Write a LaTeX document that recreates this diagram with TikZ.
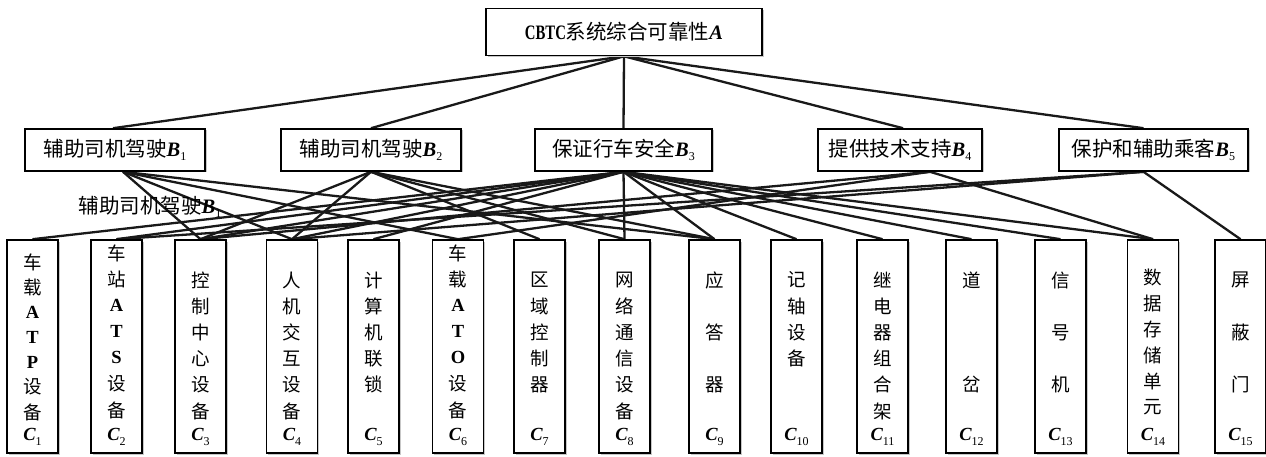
\documentclass[tikz,border=0pt]{standalone}
\usepackage{fontspec}
\usepackage{graphicx}
\setmainfont{Liberation Serif}
\newfontfamily\cjk{Noto Sans CJK SC}
\usetikzlibrary{shadows,backgrounds}
\newcommand\lat[1]{{\rmfamily\bfseries\itshape #1}}
\newcommand\mysubn[2]{\raisebox{#1}{\rmfamily\mdseries\upshape\fontsize{12}{12}\selectfont #2}}
\newcommand\Bl[1]{\lat{B}\mysubn{-0.35ex}{#1}}
\newcommand\Cl[1]{\lat{C}\mysubn{-0.5ex}{#1}}
\newcommand\lt[1]{{\rmfamily\bfseries #1}}
\newcommand\cstack[5]{% name, x, first y, spacing, list
  \foreach \t [count=\k] in {#5} {\node[ctext] (#1t\k) at (#2, #3+#4*\k-#4) {\t};}
}
\begin{document}
\begin{tikzpicture}[x=1pt,y=-1pt,
  box/.style={draw, line width=1.6pt, fill=white, inner sep=0pt,
    drop shadow={shadow xshift=1.5pt, shadow yshift=-1.5pt, fill=black!22, opacity=1}},
  bbox/.style={box, minimum height=42pt},
  cbox/.style={box, minimum width=51pt, minimum height=213pt},
  btext/.style={font=\cjk\fontsize{20.5}{24}\selectfont, inner sep=0pt},
  ctext/.style={font=\cjk\fontsize{18.5}{22}\selectfont, inner sep=0pt},
  link/.style={line width=2.3pt, draw=black!90}
]
\useasboundingbox (0,0) rectangle (1266,457);

% top
\node[box, minimum width=276pt, minimum height=47pt, btext] (A) at (624,32)
  {\scalebox{0.72}[1]{\lt{CBTC}}系统综合可靠性\lat{A}};

% B level
\node[bbox, minimum width=180pt, btext] (B1) at (115,150) {辅助司机驾驶\Bl{1}};
\node[bbox, minimum width=180pt, btext] (B2) at (371,150) {辅助司机驾驶\Bl{2}};
\node[bbox, minimum width=177pt, btext] (B3) at (623.5,150) {保证行车安全\Bl{3}};
\node[bbox, minimum width=164pt, btext] (B4) at (900,150) {提供技术支持\Bl{4}};
\node[bbox, minimum width=189pt, btext] (B5) at (1153.5,150) {保护和辅助乘客\Bl{5}};

% stray label
\node[btext] (stray) at (150,207) {辅助司机驾驶\Bl{1}};

% C level boxes
\foreach \n/\x in {1/32.5, 2/116.5, 3/200.5, 4/292, 5/373.5, 6/458, 7/539.5, 8/624.5,
                   9/714.5, 10/796.5, 11/882.5, 12/971.5, 13/1060.5, 14/1153, 15/1240.5} {
  \node[cbox] (C\n) at (\x,346.5) {};
  \node[ctext] (C\n lab) at (\x,437) {\Cl{\n}};
}

% C texts
\cstack{C1}{32.5}{262}{25}{车,载,\lt{A},\lt{T},\lt{P},设,备}
\cstack{C2}{116.5}{253}{26.2}{车,站,\lt{A},\lt{T},\lt{S},设,备}
\cstack{C3}{200.5}{280}{26.2}{控,制,中,心,设,备}
\cstack{C4}{292}{280}{26.2}{人,机,交,互,设,备}
\cstack{C5}{373.5}{280}{26.2}{计,算,机,联,锁}
\cstack{C6}{458}{253}{26.2}{车,载,\lt{A},\lt{T},\lt{O},设,备}
\cstack{C7}{539.5}{280}{26.2}{区,域,控,制,器}
\cstack{C8}{624.5}{280}{26.2}{网,络,通,信,设,备}
\cstack{C9}{714.5}{280}{26.2}{应,,答,,器}
\cstack{C10}{796.5}{280}{26.2}{记,轴,设,备}
\cstack{C11}{882.5}{280}{26.2}{继,电,器,组,合,架}
\cstack{C12}{971.5}{280}{26.2}{道,,,,岔}
\cstack{C13}{1060.5}{280}{26.2}{信,,号,,机}
\cstack{C14}{1153}{277}{26}{数,据,存,储,单,元}
\cstack{C15}{1240.5}{280}{26.2}{屏,,蔽,,门}

% connectors
\begin{pgfonlayer}{background}
  \draw[link] (A.south) -- ([xshift=-2pt]B1.north);
  \draw[link] (A.south) -- (B2.north);
  \draw[link] (A.south) -- (B3.north);
  \draw[link] (A.south) -- ([xshift=3pt]B4.north);
  \draw[link] (A.south) -- ([xshift=-10pt]B5.north);
  \foreach \c in {3,4,6,9} \draw[link] ([xshift=8pt]B1.south) -- (C\c.north);
  \foreach \c in {3,4,7,8,9} \draw[link] (B2.south) -- (C\c.north);
  \foreach \c in {1,2,3,4,5,8,9,10,11,12,13,14} \draw[link] (B3.south) -- (C\c.north);
  \foreach \c in {3,6,14} \draw[link] ([xshift=30pt]B4.south) -- (C\c.north);
  \foreach \c in {2,4,15} \draw[link] ([xshift=-10pt]B5.south) -- (C\c.north);
\end{pgfonlayer}
\end{tikzpicture}
\end{document}
